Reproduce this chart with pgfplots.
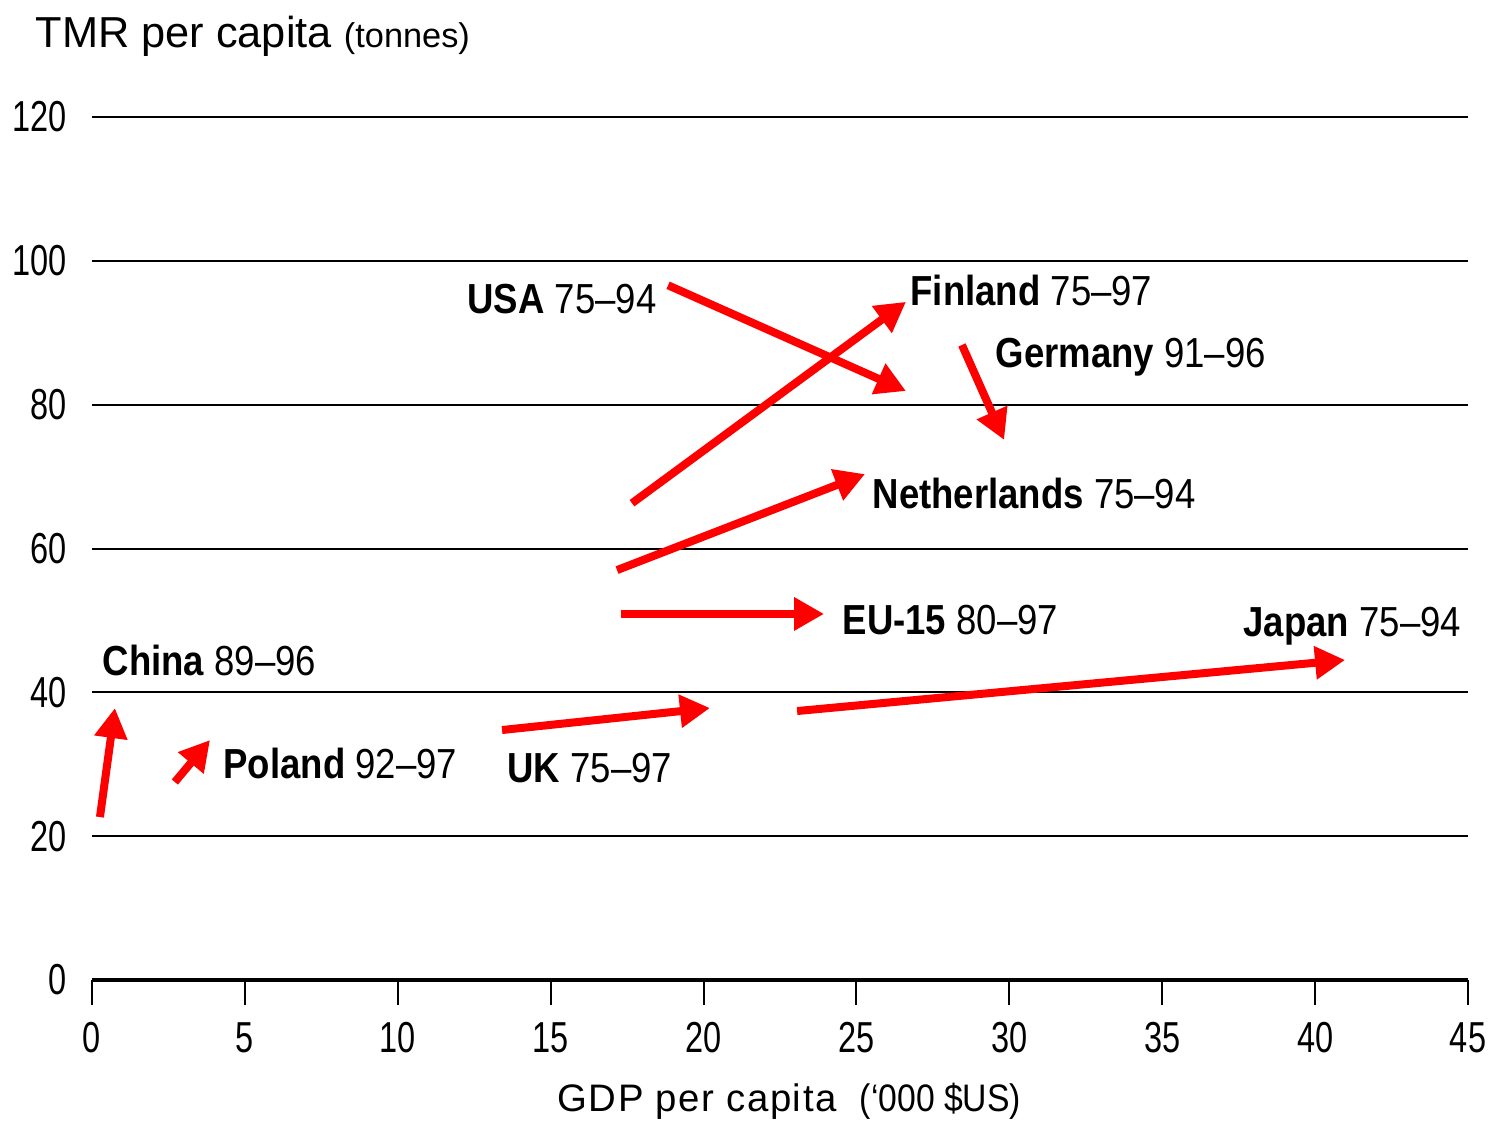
\documentclass[border=0pt]{standalone}
\usepackage{fontspec}
\setmainfont{Liberation Sans}[Ligatures=TeX]
\newfontfamily\labfont{Liberation Sans}[FakeStretch=0.87,Ligatures=TeX]
\newfontfamily\tickfont{Liberation Sans}[FakeStretch=0.75]
\newfontfamily\unitfont{Liberation Sans}[FakeStretch=0.88]
\newfontfamily\xlabfont{Liberation Sans}[LetterSpace=4]
\usepackage{pgfplots}
\pgfplotsset{compat=1.18}
\usetikzlibrary{arrows.meta}
\definecolor{arrred}{RGB}{255,0,0}
\begin{document}
\begin{tikzpicture}
\path[use as bounding box] (-27.6pt,-43.8pt) rectangle (421.5pt,294pt);
\begin{axis}[
  at={(0,0)}, anchor=south west,
  scale only axis, width=412.8pt, height=258.9pt,
  xmin=0, xmax=45, ymin=0, ymax=120,
  axis x line*=bottom, axis y line*=left,
  x axis line style={line width=1.2pt, -},
  y axis line style={draw=none},
  xtick={0,5,...,45}, ytick={0,20,...,120},
  tick align=outside,
  major tick length=7.5pt,
  xtick style={black, line width=0.6pt},
  ytick style={draw=none},
  ymajorgrids, grid style={black, line width=0.6pt},
  ticklabel style={font=\tickfont\fontsize{13}{13}\selectfont},
  xticklabel style={inner sep=0pt, anchor=north, yshift=-5pt},
  yticklabel style={inner sep=0pt, anchor=east},
  /pgf/number format/assume math mode=true,
  clip=false,
  arr/.style={draw=arrred, line width=2.4pt, no markers, solid, -{Triangle[length=9pt,width=9.5pt]}},
]
% USA
\addplot[arr] coordinates {(18.84,96.6) (26.62,81.9)};
% Finland
\addplot[arr] coordinates {(17.66,66.3) (26.62,94.3)};
% Germany
\addplot[arr] coordinates {(28.45,88.3) (29.83,75.1)};
% Netherlands
\addplot[arr] coordinates {(17.17,57.0) (25.28,70.35)};
% EU-15
\addplot[arr] coordinates {(17.30,50.9) (23.94,50.9)};
% Japan
\addplot[arr] coordinates {(23.06,37.4) (40.98,44.5)};
% UK
\addplot[arr] coordinates {(13.41,34.76) (20.21,37.82)};
% Poland
\addplot[arr] coordinates {(2.71,27.53) (3.86,33.37)};
% China
\addplot[arr] coordinates {(0.26,22.66) (0.75,37.82)};

\begin{scope}[every node/.style={anchor=base west, inner sep=0pt, font=\labfont\fontsize{12.6}{14}\selectfont}]
\node at (axis cs:12.26,92.74) {\textbf{USA} 75–94};
\node at (axis cs:26.75,93.85) {\textbf{Finland} 75–97};
\node at (axis cs:29.53,85.1) {\textbf{Germany} 91–96};
\node at (axis cs:25.51,65.63) {\textbf{Netherlands} 75–94};
\node at (axis cs:24.53,48.11) {\textbf{EU-15} 80–97};
\node at (axis cs:37.64,47.83) {\textbf{Japan} 75–94};
\node at (axis cs:0.33,42.41) {\textbf{China} 89–96};
\node at (axis cs:4.28,28.09) {\textbf{Poland} 92–97};
\node at (axis cs:13.57,27.53) {\textbf{UK} 75–97};
\end{scope}
\node[anchor=base west, inner sep=0pt] at (rel axis cs:-0.0414,1.0811)
  {\fontsize{13}{15}\selectfont TMR per capita \fontsize{10.3}{12}\selectfont(tonnes)};
\node[anchor=base west, inner sep=0pt] at (rel axis cs:0.3379,-0.1518)
  {\xlabfont\fontsize{11.5}{13}\selectfont GDP per capita\hspace{7pt}\unitfont(‘000 \$US)};
\end{axis}
\end{tikzpicture}
\end{document}
